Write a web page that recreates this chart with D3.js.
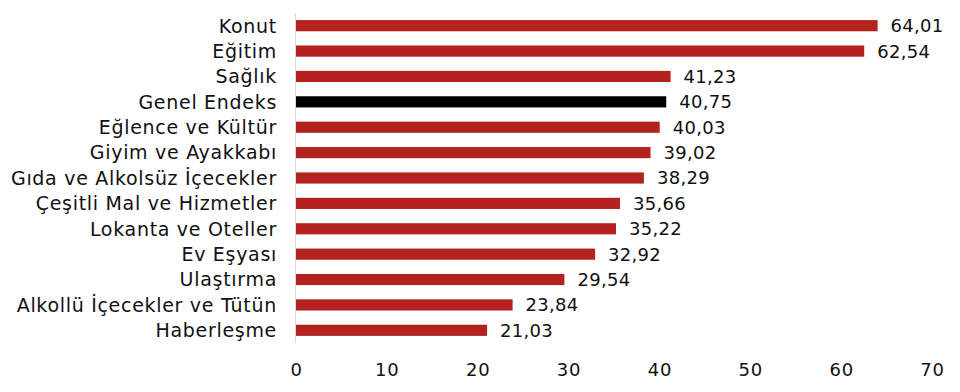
<!DOCTYPE html>
<html lang="tr">
<head>
<meta charset="UTF-8">
<title>Enflasyon</title>
<script src="https://cdn.jsdelivr.net/npm/d3@7"></script>
<style>
  html, body { margin: 0; padding: 0; background: #fff; }
  svg text { font-family: "DejaVu Sans", sans-serif; fill: #111; }
</style>
</head>
<body>
<svg id="chart" width="960" height="392"></svg>
<script>
// data
var categories = ["Konut", "Eğitim", "Sağlık", "Genel Endeks", "Eğlence ve Kültür",
  "Giyim ve Ayakkabı", "Gıda ve Alkolsüz İçecekler", "Çeşitli Mal ve Hizmetler",
  "Lokanta ve Oteller", "Ev Eşyası", "Ulaştırma", "Alkollü İçecekler ve Tütün", "Haberleşme"];
var values = [64.01, 62.54, 41.23, 40.75, 40.03, 39.02, 38.29, 35.66, 35.22, 32.92, 29.54, 23.84, 21.03];
var ticks = [0, 10, 20, 30, 40, 50, 60, 70];
var highlight = "Genel Endeks";

var svg = d3.select("#chart"),
    margin = { top: 13, right: 28, bottom: 49, left: 296 },
    width = +svg.attr("width") - margin.left - margin.right,
    height = +svg.attr("height") - margin.top - margin.bottom,
    g = svg.append("g").attr("transform", "translate(" + margin.left + "," + margin.top + ")");

var x = d3.scaleLinear().domain([0, 70]).range([0, width]);
var y = d3.scaleBand().domain(categories).range([0, height]).paddingInner(0.56).paddingOuter(0.28);

var rows = categories.map(function (c, i) { return { name: c, value: values[i] }; });

// bars
g.selectAll("rect.bar")
  .data(rows)
  .enter().append("rect")
  .attr("class", "bar")
  .attr("x", x(0))
  .attr("y", function (d) { return y(d.name); })
  .attr("width", function (d) { return x(d.value) - x(0); })
  .attr("height", y.bandwidth())
  .attr("fill", function (d) { return d.name === highlight ? "#000000" : "#b3221e"; });

// value labels
g.selectAll("text.val")
  .data(rows)
  .enter().append("text")
  .attr("class", "val")
  .attr("x", function (d) { return x(d.value) + 13; })
  .attr("y", function (d) { return y(d.name) + y.bandwidth() / 2; })
  .attr("dy", "0.36em")
  .attr("font-size", 18)
  .style("letter-spacing", "0.3px")
  .text(function (d) { return d3.format(".2f")(d.value).replace(".", ","); });

// category labels
g.selectAll("text.cat")
  .data(rows)
  .enter().append("text")
  .attr("class", "cat")
  .attr("x", -19)
  .attr("y", function (d) { return y(d.name) + y.bandwidth() / 2; })
  .attr("dy", "0.36em")
  .attr("text-anchor", "end")
  .attr("font-size", 19)
  .style("letter-spacing", "0.7px")
  .text(function (d) { return d.name; });

// vertical baseline
g.append("line")
  .attr("x1", x(0) - 0.5).attr("x2", x(0) - 0.5)
  .attr("y1", 0).attr("y2", height)
  .attr("stroke", "#d9d9d9").attr("stroke-width", 1);

// x axis
var xAxis = g.append("g")
  .attr("transform", "translate(0," + height + ")")
  .call(d3.axisBottom(x).tickValues(ticks).tickSize(0).tickPadding(20));
xAxis.select(".domain").remove();
xAxis.selectAll("text")
  .attr("font-size", 18)
  .style("font-family", "\"DejaVu Sans\", sans-serif")
  .style("letter-spacing", "0.8px")
  .attr("fill", "#111");
</script>
</body>
</html>
